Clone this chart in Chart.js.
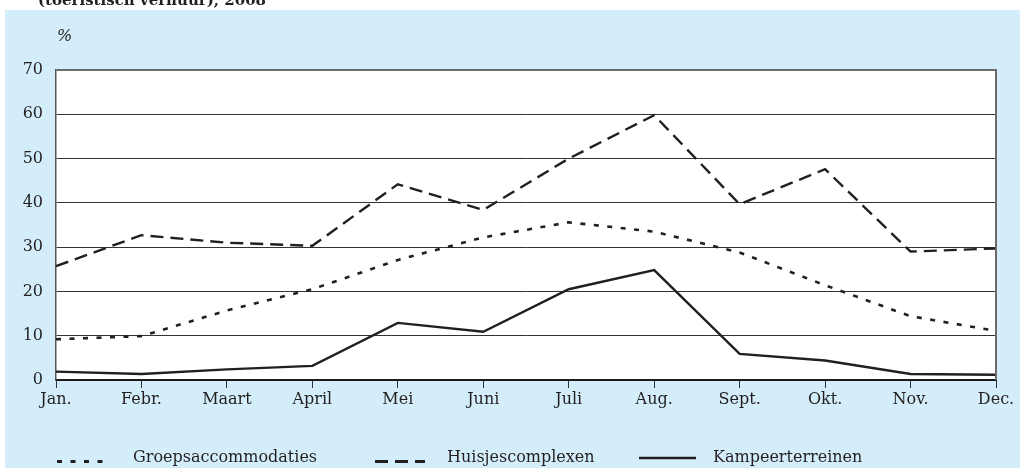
<!DOCTYPE html>
<html><head><meta charset="utf-8">
<script src="https://cdn.jsdelivr.net/npm/chart.js@4"></script>
<style>html,body{margin:0;padding:0;background:#fff;overflow:hidden}
#wrap{position:absolute;left:0;top:0;width:1020px;height:468px}
</style></head><body><div id="wrap"><canvas id="c" width="1020" height="468"></canvas></div>
<script>
const months = ['Jan.','Febr.','Maart','April','Mei','Juni','Juli','Aug.','Sept.','Okt.','Nov.','Dec.'];
const groepsaccommodaties = [9.2,9.9,15.7,20.5,27.1,32.2,35.6,33.5,28.8,21.4,14.4,11.1];
const huisjescomplexen = [25.7,32.7,31.0,30.3,44.2,38.4,50.0,59.8,39.7,47.6,29.0,29.7];
const kampeerterreinen = [1.9,1.35,2.4,3.2,12.9,10.9,20.5,24.8,5.9,4.4,1.35,1.2];
const yTicks = [0,10,20,30,40,50,60,70];
const seriesNames = ['Groepsaccommodaties','Huisjescomplexen','Kampeerterreinen'];
const titleText = '(toeristisch verhuur), 2008';
const unitText = '%';

const FONT = '"DejaVu Serif", serif';
const INK = '#231f20';
const BLUE = '#d3eefa';

const legendLayout = [
  {x1:57, x2:104, y:461.5, w:3, textX:133},
  {x1:375, x2:425, y:461.5, w:3, textX:447},
  {x1:639, x2:696, y:458, w:2.5, textX:713}
];

const decor = {
  id:'decor',
  beforeDraw(chart){
    const ctx = chart.ctx, a = chart.chartArea;
    ctx.save();
    ctx.fillStyle = '#fff'; ctx.fillRect(0,0,chart.width,chart.height);
    ctx.fillStyle = BLUE; ctx.fillRect(5,10,chart.width-5,chart.height-10);
    ctx.fillStyle = '#fff'; ctx.fillRect(a.left,a.top,a.right-a.left,a.bottom-a.top);
    ctx.fillStyle = INK;
    ctx.font = 'bold 15px ' + FONT;
    ctx.textBaseline = 'alphabetic';
    ctx.fillText(titleText, 38, 4.5);
    ctx.font = 'italic 16px ' + FONT;
    ctx.fillText(unitText, 57, 41);
    ctx.restore();
  },
  afterDraw(chart){
    const ctx = chart.ctx, a = chart.chartArea;
    ctx.save();
    ctx.strokeStyle = '#6b6b6b'; ctx.lineWidth = 2;
    ctx.beginPath(); ctx.moveTo(a.right, a.top-1); ctx.lineTo(a.right, a.bottom); ctx.stroke();
    chart.data.datasets.forEach((ds,i)=>{
      const L = legendLayout[i];
      ctx.strokeStyle = ds.borderColor; ctx.lineWidth = L.w;
      ctx.setLineDash(ds.borderDash || []);
      ctx.lineCap = 'butt';
      ctx.beginPath(); ctx.moveTo(L.x1, L.y); ctx.lineTo(L.x2, L.y); ctx.stroke();
      ctx.setLineDash([]);
      ctx.fillStyle = INK; ctx.font = '16px ' + FONT; ctx.textBaseline = 'alphabetic';
      ctx.fillText(ds.label, L.textX, 462);
    });
    ctx.restore();
  }
};

new Chart(document.getElementById('c'), {
  type:'line',
  data:{
    labels: months,
    datasets:[
      {label:seriesNames[0], data:groepsaccommodaties, borderColor:INK, borderWidth:2.6, borderDash:[5,8.5], pointRadius:0, tension:0, fill:false},
      {label:seriesNames[1], data:huisjescomplexen, borderColor:INK, borderWidth:2.4, borderDash:[13,7], pointRadius:0, tension:0, fill:false},
      {label:seriesNames[2], data:kampeerterreinen, borderColor:INK, borderWidth:2.4, pointRadius:0, tension:0, fill:false}
    ]
  },
  options:{
    responsive:false, animation:false, devicePixelRatio:1,
    layout:{padding:{left:0, right:24, top:70, bottom:0}},
    plugins:{legend:{display:false}, tooltip:{enabled:false}},
    scales:{
      x:{
        type:'category', offset:false,
        grid:{drawOnChartArea:false, drawTicks:true, tickLength:8, color:'#333', lineWidth:1},
        border:{display:true, color:'#1a1a1a', width:2},
        ticks:{padding:2, maxRotation:0, autoSkip:false, color:INK, font:{family:FONT, size:16}},
        afterFit(s){ s.height = 88; }
      },
      y:{
        min:0, max:70,
        afterBuildTicks(s){ s.ticks = yTicks.map(v=>({value:v})); },
        grid:{
          drawTicks:false,
          color:c=> c.tick.value===70 ? '#6b6b6b' : (c.tick.value===0 ? '#1a1a1a' : '#333'),
          lineWidth:c=> (c.tick.value===70 || c.tick.value===0) ? 2 : 1
        },
        border:{display:true, color:'#555', width:1.5},
        ticks:{padding:13, color:INK, font:{family:FONT, size:16}},
        afterFit(s){ s.width = 56; }
      }
    }
  },
  plugins:[decor]
});
</script></body></html>
